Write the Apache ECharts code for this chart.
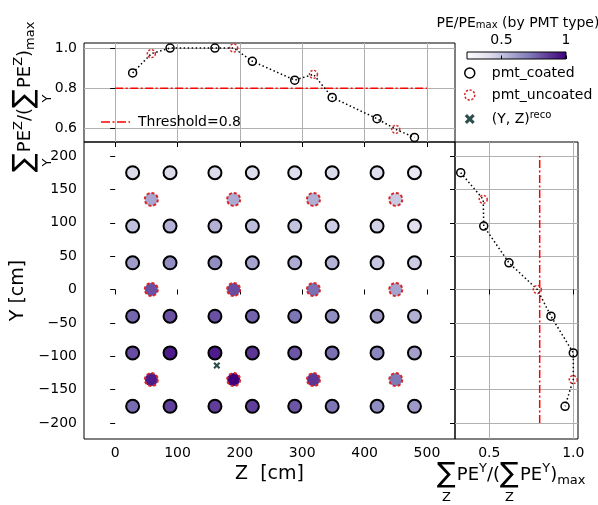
<!DOCTYPE html>
<html><head><meta charset="utf-8">
<script src="https://cdn.jsdelivr.net/npm/echarts@6/dist/echarts.min.js"></script>
<style>html,body{margin:0;padding:0;background:#fff}#c{width:598px;height:505px}</style>
</head><body><div id="c"></div><script>
// ---------------- data ----------------
const coatedZ = [28, 88, 160, 220, 288, 348, 420, 480];
const coatedY = [175, 95, 40, -40, -95, -175];
const coatedPE = [
  [0.42, 0.42, 0.42, 0.41, 0.41, 0.42, 0.41, 0.36],
  [0.51, 0.55, 0.55, 0.52, 0.50, 0.47, 0.45, 0.40],
  [0.61, 0.655, 0.655, 0.59, 0.57, 0.55, 0.49, 0.47],
  [0.76, 0.81, 0.81, 0.77, 0.73, 0.66, 0.61, 0.56],
  [0.82, 0.93, 0.93, 0.87, 0.80, 0.74, 0.68, 0.60],
  [0.75, 0.85, 0.855, 0.85, 0.80, 0.73, 0.66, 0.62]
];
const uncoatedZ = [58, 190, 318, 450];
const uncoatedY = [135, 0, -135];
const uncoatedPE = [
  [0.58, 0.57, 0.56, 0.48],
  [0.81, 0.82, 0.74, 0.59],
  [0.93, 1.00, 0.87, 0.72]
];
const recoZY = [163, -114];
const coatedSumZ = [0.876, 1.0, 1.0, 0.934, 0.840, 0.754, 0.648, 0.555];
const uncoatedSumZ = [0.972, 1.0, 0.869, 0.595];
const coatedSumY = [0.330, 0.467, 0.617, 0.867, 1.0, 0.951];
const uncoatedSumY = [0.464, 0.786, 1.0];
const threshold = 0.8;
const thresholdSpanZ = [0, 500];
const thresholdSpanY = [-200, 200];
const zTicks = [0, 100, 200, 300, 400, 500];
const yTicks = [-200, -150, -100, -50, 0, 50, 100, 150, 200];
const topTicks = [0.6, 0.8, 1.0];
const rightTicks = [0.5, 1.0];
const cbarTicks = [0.5, 1];
const purples = ['#fcfbfd','#efedf5','#dadaeb','#bcbddc','#9e9ac8','#807dba','#6a51a3','#54278f','#3f007d'];
const cMin = 0.233, cMax = 1;

// ---------------- build ----------------
const FONT = 'DejaVu Sans';
const TXT = '#000';
const RED = '#d62728';
const LINE_RED = '#ff0000';
const GRIDC = '#b0b0b0';

const topCoated = coatedZ.map((z, i) => [z, coatedSumZ[i]]);
const topUncoated = uncoatedZ.map((z, i) => [z, uncoatedSumZ[i]]);
const topLine = topCoated.concat(topUncoated).sort((a, b) => a[0] - b[0]);
const rightCoated = coatedY.map((y, i) => [coatedSumY[i], y]);
const rightUncoated = uncoatedY.map((y, i) => [uncoatedSumY[i], y]);
const rightLine = rightCoated.concat(rightUncoated).sort((a, b) => b[1] - a[1]);
const mainCoated = [];
coatedY.forEach((y, r) => coatedZ.forEach((z, c) => mainCoated.push([z, y, coatedPE[r][c]])));
const mainUncoated = [];
uncoatedY.forEach((y, r) => uncoatedZ.forEach((z, c) => mainUncoated.push([z, y, uncoatedPE[r][c]])));

const minus = v => String(v).replace('-', '\u2212');

function axis(o) {
  const base = {
    type: 'value',
    axisLine: { show: false },
    axisTick: { show: true, length: 5, lineStyle: { color: '#000', width: 1 } },
    axisLabel: { show: true, color: TXT, fontSize: 14, fontFamily: FONT, margin: 7 },
    splitLine: { show: false }
  };
  for (const k in o) {
    if (base[k] && typeof base[k] === 'object' && typeof o[k] === 'object' && !Array.isArray(o[k])) base[k] = Object.assign({}, base[k], o[k]);
    else base[k] = o[k];
  }
  return base;
}

const X_PATH = 'path://M0,0.22 L0.22,0 L0.5,0.28 L0.78,0 L1,0.22 L0.72,0.5 L1,0.78 L0.78,1 L0.5,0.72 L0.22,1 L0,0.78 L0.28,0.5 Z';
const DASHDOT_PATH = 'path://M0,0 H9 V1.6 H0 Z M11.5,0 H13.5 V1.6 H11.5 Z M16,0 H25 V1.6 H16 Z M27.5,0 H29 V1.6 H27.5 Z';

// math-label builder (text layout only)
const mctx = document.createElement('canvas').getContext('2d');
function tw(t, size) { mctx.font = size + 'px "' + FONT + '"'; return mctx.measureText(t).width; }
function mathLabel(tokens, x0, y0, rot) {
  const children = [];
  let x = 0;
  tokens.forEach(tk => {
    const w = tw(tk.t, tk.size);
    children.push({ type: 'text', x: x, y: tk.base - 0.346 * tk.size,
      style: { text: tk.t, fontSize: tk.size, fontFamily: FONT, fill: TXT, verticalAlign: 'middle', align: 'left' } });
    if (tk.under) {
      children.push({ type: 'text', x: x + w / 2, y: tk.ubase - 0.346 * tk.usize,
        style: { text: tk.under, fontSize: tk.usize, fontFamily: FONT, fill: TXT, verticalAlign: 'middle', align: 'center' } });
    }
    x += w + (tk.gap || 0);
  });
  return { type: 'group', x: x0, y: y0, rotation: rot, children: children };
}
function sumLabel(inner, x0, y0, rot) {
  const M = 18, s = 13, S = 28;
  const sup = inner === 'Z' ? 'Y' : 'Z';
  return mathLabel([
    { t: '\u2211', size: S, base: 2, under: inner, usize: s, ubase: 20, gap: 1 },
    { t: 'PE', size: M, base: 0 },
    { t: sup, size: s, base: -8.5 },
    { t: '/(', size: M, base: 0 },
    { t: '\u2211', size: S, base: 2, under: inner, usize: s, ubase: 20, gap: 1 },
    { t: 'PE', size: M, base: 0 },
    { t: sup, size: s, base: -8.5 },
    { t: ')', size: M, base: 0 },
    { t: 'max', size: s, base: 3.5 }
  ], x0, y0, rot);
}

const chart = echarts.init(document.getElementById('c'));
const option = {
  animation: false,
  backgroundColor: '#fff',
  textStyle: { fontFamily: FONT },
  title: {
    text: '{a|PE/PE}{b|max}{a| (by PMT type)}',
    left: 513, top: 7, textAlign: 'center',
    textStyle: { fontWeight: 'normal', rich: {
      a: { fontSize: 14, fontFamily: FONT, fontWeight: 'normal', color: TXT, verticalAlign: 'bottom', lineHeight: 18 },
      b: { fontSize: 10, fontFamily: FONT, fontWeight: 'normal', color: TXT, verticalAlign: 'bottom', lineHeight: 14 }
    } }
  },
  grid: [
    { left: 84, top: 43, width: 371, height: 99, show: true, borderColor: '#000', borderWidth: 1, backgroundColor: 'transparent' },
    { left: 84, top: 142, width: 371, height: 297, show: true, borderColor: '#000', borderWidth: 1, backgroundColor: 'transparent' },
    { left: 455, top: 142, width: 123, height: 297, show: true, borderColor: '#000', borderWidth: 1, backgroundColor: 'transparent' },
    { left: 467, top: 52, width: 99, height: 7, show: true, borderColor: '#000', borderWidth: 1,
      backgroundColor: new echarts.graphic.LinearGradient(0, 0, 1, 0, purples.map((c, i) => ({ offset: i / (purples.length - 1), color: c }))) }
  ],
  xAxis: [
    axis({ gridIndex: 0, min: -50, max: 545, axisTick: { customValues: zTicks }, axisLabel: { show: false },
      splitLine: { show: true, lineStyle: { color: GRIDC, width: 1 } } }),
    axis({ gridIndex: 1, min: -50, max: 545, axisTick: { customValues: zTicks }, axisLabel: { customValues: zTicks },
      name: 'Z  [cm]', nameLocation: 'middle', nameGap: 22, nameTextStyle: { fontSize: 19, fontFamily: FONT, color: TXT, verticalAlign: 'top' } }),
    axis({ gridIndex: 2, min: 0.296, max: 1.028, axisTick: { customValues: rightTicks },
      axisLabel: { customValues: rightTicks, formatter: v => Number(v).toFixed(1) },
      splitLine: { show: true, lineStyle: { color: GRIDC, width: 1 } } }),
    axis({ gridIndex: 3, position: 'top', min: cMin, max: cMax, axisTick: { customValues: cbarTicks, length: 3.5 },
      axisLabel: { customValues: cbarTicks, margin: 5, formatter: v => String(v) } })
  ],
  yAxis: [
    axis({ gridIndex: 0, min: 0.532, max: 1.025, axisTick: { customValues: topTicks },
      axisLabel: { customValues: topTicks, formatter: v => Number(v).toFixed(1) },
      splitLine: { show: true, lineStyle: { color: GRIDC, width: 1 } } }),
    axis({ gridIndex: 1, min: -224, max: 221, axisTick: { customValues: yTicks },
      axisLabel: { customValues: yTicks, formatter: v => minus(v) },
      name: 'Y [cm]', nameLocation: 'middle', nameGap: 41, nameTextStyle: { fontSize: 19, fontFamily: FONT, color: TXT } }),
    axis({ gridIndex: 2, min: -224, max: 221, axisTick: { customValues: yTicks }, axisLabel: { show: false },
      splitLine: { show: true, lineStyle: { color: GRIDC, width: 1 } } }),
    axis({ gridIndex: 3, min: 0, max: 1, axisTick: { show: false }, axisLabel: { show: false } })
  ],
  visualMap: {
    type: 'continuous', show: false, seriesIndex: [4, 5], dimension: 2,
    min: cMin, max: cMax, inRange: { color: purples }
  },
  legend: [
    {
      data: [{ name: 'Threshold=0.8', icon: DASHDOT_PATH, itemStyle: { color: LINE_RED, borderWidth: 0 } }],
      left: 96, top: 110, itemWidth: 29, itemHeight: 10,
      textStyle: { fontSize: 14, fontFamily: FONT, color: TXT, padding: [0, 0, 0, 3] }
    },
    {
      orient: 'vertical', left: 459, top: 61, itemGap: 8, itemWidth: 10, itemHeight: 10,
      data: [
        { name: 'pmt_coated', icon: 'circle', itemStyle: { color: 'rgba(0,0,0,0)', borderColor: '#000', borderWidth: 1.5 } },
        { name: 'pmt_uncoated', icon: 'circle', itemStyle: { color: 'rgba(0,0,0,0)', borderColor: RED, borderWidth: 1.5, borderType: [2.2, 1.6] } },
        { name: 'reco', icon: X_PATH, itemStyle: { color: '#2f4f4f', borderWidth: 0 } }
      ],
      formatter: n => n === 'reco' ? '{a|(Y, Z)}{s|reco}' : '{a|' + n + '}',
      textStyle: { fontSize: 14, fontFamily: FONT, color: TXT, padding: [0, 0, 0, 12],
        rich: { a: { fontSize: 14, fontFamily: FONT, color: TXT, padding: [0, 0, 0, 0] },
                s: { fontSize: 10, fontFamily: FONT, color: TXT, verticalAlign: 'top', padding: [0, 0, 8, 0] } } }
    }
  ],
  series: [
    { type: 'line', xAxisIndex: 0, yAxisIndex: 0, data: topLine, showSymbol: false, symbol: 'none', silent: true,
      lineStyle: { color: '#000', width: 1.5, type: [1.5, 2.5] }, z: 3 },
    { name: 'pmt_coated', type: 'scatter', xAxisIndex: 0, yAxisIndex: 0, data: topCoated, symbol: 'circle', symbolSize: 8,
      itemStyle: { color: 'rgba(0,0,0,0)', borderColor: '#000', borderWidth: 1.5, opacity: 1 }, z: 4 },
    { name: 'pmt_uncoated', type: 'scatter', xAxisIndex: 0, yAxisIndex: 0, data: topUncoated, symbol: 'circle', symbolSize: 8,
      itemStyle: { color: 'rgba(0,0,0,0)', borderColor: RED, borderWidth: 1.5, borderType: [2.2, 1.6], opacity: 1 }, z: 4 },
    { name: 'Threshold=0.8', type: 'line', xAxisIndex: 0, yAxisIndex: 0, symbol: 'none', silent: true,
      data: thresholdSpanZ.map(z => [z, threshold]), itemStyle: { color: LINE_RED },
      lineStyle: { color: LINE_RED, width: 1.5, type: [8, 2.5, 2, 2.5] }, z: 2 },
    { name: 'pmt_coated', type: 'scatter', xAxisIndex: 1, yAxisIndex: 1, data: mainCoated, symbol: 'circle', symbolSize: 13,
      itemStyle: { borderColor: '#000', borderWidth: 2, opacity: 1 }, z: 4 },
    { name: 'pmt_uncoated', type: 'scatter', xAxisIndex: 1, yAxisIndex: 1, data: mainUncoated, symbol: 'circle', symbolSize: 13,
      itemStyle: { borderColor: RED, borderWidth: 2, borderType: [3, 2], opacity: 1 }, z: 4 },
    { name: 'reco', type: 'scatter', xAxisIndex: 1, yAxisIndex: 1, data: [recoZY], symbol: X_PATH, symbolSize: 7,
      itemStyle: { color: '#2f4f4f', opacity: 1 }, z: 5 },
    { type: 'line', xAxisIndex: 2, yAxisIndex: 2, data: rightLine, showSymbol: false, symbol: 'none', silent: true,
      lineStyle: { color: '#000', width: 1.5, type: [1.5, 2.5] }, z: 3 },
    { name: 'pmt_coated', type: 'scatter', xAxisIndex: 2, yAxisIndex: 2, data: rightCoated, symbol: 'circle', symbolSize: 8,
      itemStyle: { color: 'rgba(0,0,0,0)', borderColor: '#000', borderWidth: 1.5, opacity: 1 }, z: 4 },
    { name: 'pmt_uncoated', type: 'scatter', xAxisIndex: 2, yAxisIndex: 2, data: rightUncoated, symbol: 'circle', symbolSize: 8,
      itemStyle: { color: 'rgba(0,0,0,0)', borderColor: RED, borderWidth: 1.5, borderType: [2.2, 1.6], opacity: 1 }, z: 4 },
    { name: 'Threshold=0.8', type: 'line', xAxisIndex: 2, yAxisIndex: 2, symbol: 'none', silent: true,
      data: thresholdSpanY.map(y => [threshold, y]), itemStyle: { color: LINE_RED },
      lineStyle: { color: LINE_RED, width: 1.5, type: [8, 2.5, 2, 2.5] }, z: 2 }
  ],
  graphic: [
    sumLabel('Y', 32, 172, Math.PI / 2),
    sumLabel('Z', 437, 482, 0)
  ]
};
chart.setOption(option);
</script></body></html>
